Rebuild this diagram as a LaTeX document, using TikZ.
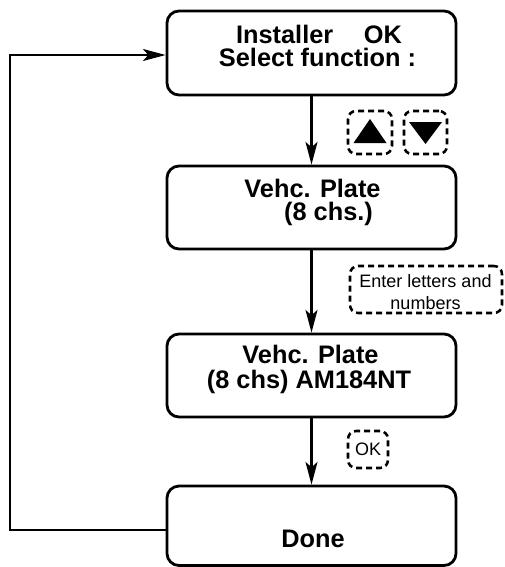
\documentclass[tikz,border=0pt]{standalone}
\usepackage{fontspec}
\setmainfont{Liberation Sans}
\usetikzlibrary{arrows.meta}
\begin{document}
\begin{tikzpicture}[x=0.75pt,y=-0.75pt,
 box/.style={draw,line width=2.1pt,rounded corners=9pt,minimum width=216.75pt,inner sep=0pt},
 keybox/.style={draw,line width=1.9pt,dash pattern=on 4.5pt off 3pt,rounded corners=6pt,inner sep=0pt},
 big/.style={font=\fontsize{19}{22}\selectfont\bfseries,anchor=base,inner sep=0pt},
 small/.style={font=\fontsize{13.5}{16}\selectfont,anchor=base,inner sep=0pt},
 arr/.style={line width=1.6pt,-{Stealth[length=17pt,width=9pt,inset=4pt]}}]
\useasboundingbox (0,0) rectangle (504,567);
% main boxes
\node[box,minimum height=63pt] (b1) at (311.5,53) {};
\node[box,minimum height=62.25pt] (b2) at (311.5,207.5) {};
\node[box,minimum height=62.25pt] (b3) at (311.5,375.5) {};
\node[box,minimum height=59.6pt] (b4) at (311.5,525.75) {};
% texts
\node[big] (t1a) at (319,44) {Installer\hspace{23pt}OK};
\node[big] (t1b) at (317.5,67) {Select function :};
\node[big] (t2a) at (312.5,197) {Vehc. Plate};
\node[big] (t2b) at (328.5,220) {(8 chs.)};
\node[big] (t3a) at (310.5,363.5) {Vehc. Plate};
\node[big] (t3b) at (309,388) {(8 chs) AM184NT};
\node[big] (t4) at (313,547) {Done};
% key boxes
\node[keybox,minimum width=33pt,minimum height=32.25pt] (up) at (370,132.5) {};
\node[keybox,minimum width=32.25pt,minimum height=32.25pt] (down) at (425.5,132.5) {};
\fill[shift={(up.center)}] (-16.5,10.5) -- (16.5,10.5) -- (0,-13.5) -- cycle;
\fill[shift={(down.center)}] (-16.5,-10.5) -- (16.5,-10.5) -- (0,11.5) -- cycle;
\node[keybox,minimum width=114pt,minimum height=35.25pt] (enter) at (426,289.5) {};
\node[small] (e1) at (425.5,287) {Enter letters and};
\node[small,fill=white,inner sep=1pt] (e2) at (425.5,309) {numbers};
\node[keybox,minimum width=30pt,minimum height=27.75pt] (ok) at (368,449.5) {};
\node[small] (okt) at (368,455) {OK};
% connectors
\draw[arr] (b1.south) -- (b2.north);
\draw[arr] (b2.south) -- (b3.north);
\draw[arr] (b3.south) -- (b4.north);
\coordinate (c1) at (10,530);
\coordinate (c2) at (10,55);
\draw[arr] (b4.west |- c1) -- (c1) -- (c2) -- (b1.west |- c2);
\end{tikzpicture}
\end{document}
